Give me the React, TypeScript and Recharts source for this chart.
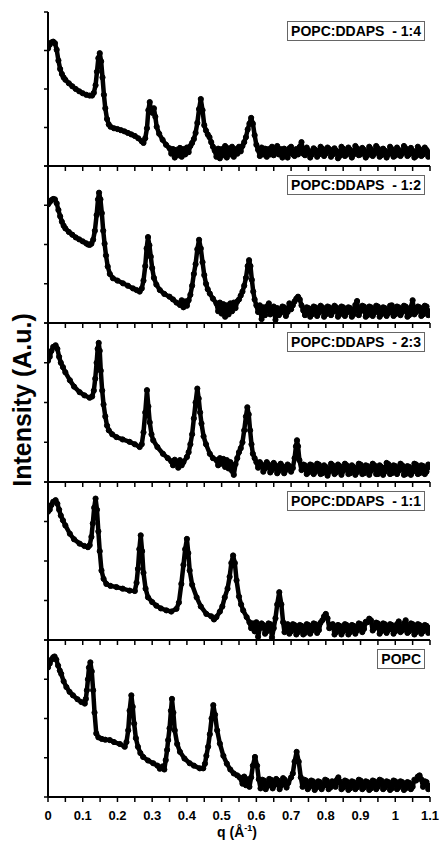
import React from 'react';
import { LineChart, Line, XAxis, YAxis } from 'recharts';

type Point = [number, number];

const qTicks = [0, 0.05, 0.1, 0.15, 0.2, 0.25, 0.3, 0.35, 0.4, 0.45, 0.5, 0.55, 0.6, 0.65, 0.7, 0.75, 0.8, 0.85, 0.9, 0.95, 1, 1.05, 1.1];
const intensityTicks = [0, 1, 2, 3, 4];

const ddaps14: Point[] = [
  [0, 3.05], [0.005, 3.15], [0.01, 3.21], [0.015, 3.23], [0.02, 3.19], [0.025, 3.02], [0.03, 2.74], [0.035, 2.52], [0.04, 2.39], [0.045, 2.3],
  [0.05, 2.24], [0.06, 2.15], [0.07, 2.07], [0.08, 2.0], [0.09, 1.94], [0.1, 1.89], [0.11, 1.85], [0.12, 1.83], [0.127, 1.83], [0.132, 1.9],
  [0.137, 2.1], [0.141, 2.45], [0.145, 2.8], [0.149, 2.93], [0.153, 2.72], [0.157, 2.3], [0.161, 1.85], [0.165, 1.5], [0.17, 1.22], [0.175, 1.08],
  [0.18, 1.02], [0.19, 0.98], [0.2, 0.96], [0.21, 0.93], [0.22, 0.9], [0.23, 0.86], [0.24, 0.82], [0.25, 0.78], [0.26, 0.72], [0.27, 0.64],
  [0.275, 0.6], [0.28, 0.72], [0.285, 0.98], [0.289, 1.45], [0.293, 1.66], [0.297, 1.42], [0.301, 1.38], [0.305, 1.5], [0.309, 1.28], [0.313, 1.02],
  [0.32, 0.84], [0.33, 0.68], [0.34, 0.55], [0.35, 0.46], [0.355, 0.32], [0.36, 0.44], [0.365, 0.22], [0.37, 0.42], [0.375, 0.28], [0.38, 0.47],
  [0.385, 0.24], [0.39, 0.44], [0.395, 0.3], [0.4, 0.48], [0.405, 0.36], [0.41, 0.52], [0.415, 0.6], [0.42, 0.7], [0.425, 0.86], [0.43, 1.12],
  [0.435, 1.48], [0.44, 1.74], [0.445, 1.45], [0.45, 1.06], [0.455, 0.92], [0.46, 0.82], [0.465, 0.75], [0.47, 0.62], [0.475, 0.5], [0.48, 0.4],
  [0.485, 0.24], [0.49, 0.45], [0.495, 0.2], [0.5, 0.44], [0.505, 0.28], [0.51, 0.52], [0.515, 0.22], [0.52, 0.46], [0.525, 0.3], [0.53, 0.5],
  [0.535, 0.24], [0.54, 0.44], [0.545, 0.32], [0.55, 0.5], [0.555, 0.38], [0.56, 0.52], [0.565, 0.62], [0.57, 0.75], [0.575, 0.95], [0.58, 1.1],
  [0.585, 1.25], [0.59, 1.1], [0.595, 0.8], [0.6, 0.55], [0.605, 0.42], [0.61, 0.26], [0.615, 0.48], [0.62, 0.3], [0.625, 0.45], [0.63, 0.24],
  [0.635, 0.44], [0.64, 0.3], [0.645, 0.5], [0.65, 0.28], [0.66, 0.52], [0.665, 0.3], [0.67, 0.44], [0.675, 0.22], [0.68, 0.45], [0.685, 0.3],
  [0.69, 0.22], [0.695, 0.46], [0.7, 0.5], [0.705, 0.3], [0.71, 0.26], [0.715, 0.44], [0.72, 0.3], [0.725, 0.5], [0.73, 0.62], [0.735, 0.32],
  [0.74, 0.28], [0.745, 0.48], [0.75, 0.4], [0.755, 0.22], [0.76, 0.3], [0.765, 0.46], [0.77, 0.42], [0.775, 0.24], [0.78, 0.3], [0.785, 0.5],
  [0.79, 0.45], [0.795, 0.26], [0.8, 0.32], [0.805, 0.48], [0.81, 0.44], [0.815, 0.24], [0.82, 0.3], [0.825, 0.46], [0.83, 0.4], [0.835, 0.2],
  [0.84, 0.26], [0.845, 0.5], [0.85, 0.45], [0.855, 0.26], [0.86, 0.3], [0.865, 0.48], [0.87, 0.42], [0.875, 0.22], [0.88, 0.3], [0.885, 0.52],
  [0.89, 0.46], [0.895, 0.28], [0.9, 0.3], [0.905, 0.47], [0.91, 0.42], [0.915, 0.22], [0.92, 0.28], [0.925, 0.5], [0.93, 0.44], [0.935, 0.26],
  [0.94, 0.32], [0.945, 0.52], [0.95, 0.46], [0.955, 0.24], [0.96, 0.28], [0.965, 0.45], [0.97, 0.4], [0.975, 0.22], [0.98, 0.3], [0.985, 0.5],
  [0.99, 0.44], [0.995, 0.24], [1.0, 0.27], [1.005, 0.48], [1.01, 0.42], [1.015, 0.26], [1.02, 0.32], [1.025, 0.52], [1.03, 0.46], [1.035, 0.26],
  [1.04, 0.3], [1.045, 0.47], [1.05, 0.4], [1.055, 0.22], [1.06, 0.26], [1.065, 0.5], [1.07, 0.44], [1.075, 0.26], [1.08, 0.3], [1.085, 0.48],
  [1.09, 0.42], [1.095, 0.24], [1.1, 0.35],
];

const ddaps12: Point[] = [
  [0, 3.02], [0.005, 3.08], [0.01, 3.13], [0.015, 3.16], [0.02, 3.15], [0.025, 3.05], [0.03, 2.88], [0.035, 2.72], [0.04, 2.58], [0.045, 2.48],
  [0.05, 2.41], [0.06, 2.32], [0.07, 2.25], [0.08, 2.18], [0.09, 2.13], [0.1, 2.08], [0.11, 2.03], [0.115, 2.0], [0.12, 1.99], [0.125, 2.02],
  [0.13, 2.12], [0.135, 2.35], [0.14, 2.75], [0.144, 3.15], [0.147, 3.32], [0.151, 3.15], [0.155, 2.8], [0.159, 2.35], [0.163, 2.02], [0.167, 1.72],
  [0.172, 1.44], [0.178, 1.25], [0.187, 1.14], [0.2, 1.08], [0.216, 1.01], [0.23, 0.95], [0.245, 0.88], [0.255, 0.84], [0.264, 0.8], [0.27, 0.88],
  [0.275, 1.08], [0.28, 1.45], [0.284, 1.9], [0.288, 2.19], [0.292, 1.98], [0.296, 1.69], [0.3, 1.4], [0.305, 1.15], [0.312, 0.98], [0.322, 0.84],
  [0.335, 0.74], [0.35, 0.67], [0.36, 0.6], [0.37, 0.52], [0.38, 0.46], [0.385, 0.58], [0.39, 0.4], [0.395, 0.55], [0.4, 0.44], [0.405, 0.58],
  [0.41, 0.72], [0.415, 0.95], [0.42, 1.25], [0.425, 1.5], [0.43, 1.88], [0.435, 2.12], [0.44, 1.9], [0.445, 1.55], [0.45, 1.22], [0.455, 1.0],
  [0.46, 0.86], [0.466, 0.75], [0.475, 0.62], [0.485, 0.5], [0.49, 0.3], [0.495, 0.52], [0.5, 0.24], [0.505, 0.48], [0.51, 0.16], [0.515, 0.45],
  [0.52, 0.22], [0.525, 0.5], [0.53, 0.3], [0.535, 0.52], [0.54, 0.38], [0.545, 0.55], [0.55, 0.6], [0.555, 0.7], [0.56, 0.8], [0.565, 0.95],
  [0.57, 1.15], [0.575, 1.45], [0.579, 1.6], [0.583, 1.45], [0.587, 1.1], [0.591, 0.8], [0.595, 0.6], [0.6, 0.45], [0.605, 0.28], [0.61, 0.45],
  [0.615, 0.1], [0.62, 0.4], [0.625, 0.2], [0.63, 0.42], [0.636, 0.5], [0.64, 0.22], [0.645, 0.38], [0.65, 0.42], [0.655, 0.08], [0.66, 0.38],
  [0.665, 0.2], [0.67, 0.26], [0.675, 0.42], [0.68, 0.4], [0.685, 0.18], [0.69, 0.28], [0.695, 0.5], [0.7, 0.35], [0.705, 0.45], [0.71, 0.55],
  [0.715, 0.62], [0.72, 0.67], [0.725, 0.6], [0.73, 0.45], [0.735, 0.32], [0.74, 0.2], [0.745, 0.4], [0.75, 0.38], [0.755, 0.16], [0.76, 0.22],
  [0.765, 0.42], [0.77, 0.4], [0.775, 0.18], [0.78, 0.26], [0.785, 0.44], [0.79, 0.4], [0.795, 0.16], [0.8, 0.22], [0.805, 0.42], [0.81, 0.4],
  [0.815, 0.2], [0.82, 0.28], [0.825, 0.44], [0.83, 0.4], [0.835, 0.16], [0.84, 0.22], [0.845, 0.42], [0.85, 0.4], [0.855, 0.18], [0.86, 0.26],
  [0.865, 0.4], [0.87, 0.38], [0.875, 0.16], [0.88, 0.22], [0.885, 0.46], [0.89, 0.56], [0.895, 0.2], [0.9, 0.3], [0.905, 0.44], [0.91, 0.42],
  [0.915, 0.16], [0.92, 0.2], [0.925, 0.42], [0.93, 0.4], [0.935, 0.18], [0.94, 0.26], [0.945, 0.44], [0.95, 0.42], [0.955, 0.16], [0.96, 0.22],
  [0.965, 0.4], [0.97, 0.38], [0.975, 0.18], [0.98, 0.25], [0.985, 0.44], [0.99, 0.45], [0.995, 0.18], [1.0, 0.22], [1.005, 0.42], [1.01, 0.4],
  [1.015, 0.2], [1.02, 0.28], [1.025, 0.44], [1.03, 0.42], [1.035, 0.16], [1.04, 0.2], [1.045, 0.4], [1.05, 0.58], [1.055, 0.22], [1.06, 0.28],
  [1.065, 0.42], [1.07, 0.4], [1.075, 0.18], [1.08, 0.22], [1.085, 0.44], [1.09, 0.42], [1.095, 0.2], [1.1, 0.3],
];

const ddaps23: Point[] = [
  [0, 3.05], [0.005, 3.15], [0.01, 3.3], [0.015, 3.4], [0.022, 3.44], [0.027, 3.35], [0.032, 3.15], [0.037, 3.0], [0.043, 2.89], [0.05, 2.76],
  [0.063, 2.56], [0.075, 2.4], [0.091, 2.26], [0.105, 2.18], [0.12, 2.12], [0.127, 2.15], [0.132, 2.3], [0.136, 2.6], [0.14, 3.0], [0.143, 3.35],
  [0.146, 3.5], [0.149, 3.3], [0.152, 2.8], [0.156, 2.3], [0.16, 1.95], [0.165, 1.65], [0.17, 1.42], [0.175, 1.3], [0.185, 1.2], [0.197, 1.13],
  [0.215, 1.07], [0.235, 1.01], [0.25, 0.95], [0.264, 0.88], [0.27, 0.95], [0.275, 1.25], [0.28, 1.75], [0.285, 2.31], [0.289, 1.9], [0.293, 1.5],
  [0.298, 1.2], [0.303, 1.05], [0.315, 0.88], [0.331, 0.71], [0.345, 0.6], [0.355, 0.52], [0.36, 0.42], [0.365, 0.56], [0.37, 0.5], [0.375, 0.36],
  [0.38, 0.55], [0.385, 0.42], [0.39, 0.5], [0.4, 0.63], [0.405, 0.75], [0.41, 0.95], [0.415, 1.2], [0.42, 1.6], [0.425, 2.0], [0.43, 2.35],
  [0.434, 2.1], [0.438, 1.75], [0.442, 1.47], [0.448, 1.15], [0.455, 0.95], [0.466, 0.71], [0.475, 0.6], [0.485, 0.55], [0.49, 0.42], [0.495, 0.6],
  [0.5, 0.46], [0.505, 0.58], [0.51, 0.38], [0.515, 0.55], [0.52, 0.34], [0.525, 0.5], [0.53, 0.28], [0.535, 0.18], [0.54, 0.45], [0.545, 0.6],
  [0.55, 0.75], [0.555, 0.85], [0.56, 1.0], [0.565, 1.3], [0.57, 1.65], [0.574, 1.88], [0.578, 1.7], [0.582, 1.3], [0.586, 0.95], [0.59, 0.71],
  [0.595, 0.6], [0.6, 0.5], [0.605, 0.36], [0.61, 0.5], [0.615, 0.44], [0.62, 0.26], [0.625, 0.34], [0.63, 0.5], [0.635, 0.44], [0.64, 0.24],
  [0.645, 0.3], [0.65, 0.48], [0.655, 0.42], [0.66, 0.22], [0.665, 0.28], [0.67, 0.46], [0.675, 0.4], [0.68, 0.22], [0.685, 0.3], [0.69, 0.44],
  [0.695, 0.4], [0.7, 0.26], [0.705, 0.35], [0.71, 0.6], [0.714, 0.9], [0.717, 1.05], [0.72, 0.9], [0.724, 0.55], [0.73, 0.3], [0.735, 0.44],
  [0.74, 0.42], [0.745, 0.2], [0.75, 0.24], [0.755, 0.44], [0.76, 0.42], [0.765, 0.2], [0.77, 0.26], [0.775, 0.46], [0.78, 0.44], [0.785, 0.2],
  [0.79, 0.22], [0.795, 0.42], [0.8, 0.38], [0.805, 0.16], [0.81, 0.26], [0.815, 0.46], [0.82, 0.42], [0.825, 0.2], [0.83, 0.24], [0.835, 0.44],
  [0.84, 0.4], [0.845, 0.18], [0.85, 0.28], [0.855, 0.46], [0.86, 0.42], [0.865, 0.2], [0.87, 0.22], [0.875, 0.42], [0.88, 0.38], [0.885, 0.18],
  [0.89, 0.25], [0.895, 0.46], [0.9, 0.44], [0.905, 0.2], [0.91, 0.22], [0.915, 0.42], [0.92, 0.4], [0.925, 0.18], [0.93, 0.28], [0.935, 0.46],
  [0.94, 0.42], [0.945, 0.2], [0.95, 0.2], [0.955, 0.42], [0.96, 0.38], [0.965, 0.18], [0.97, 0.26], [0.975, 0.48], [0.98, 0.45], [0.985, 0.2],
  [0.99, 0.22], [0.995, 0.42], [1.0, 0.4], [1.005, 0.2], [1.01, 0.28], [1.015, 0.46], [1.02, 0.42], [1.025, 0.18], [1.03, 0.2], [1.035, 0.4],
  [1.04, 0.38], [1.045, 0.18], [1.05, 0.26], [1.055, 0.46], [1.06, 0.44], [1.065, 0.2], [1.07, 0.22], [1.075, 0.42], [1.08, 0.4], [1.085, 0.2],
  [1.09, 0.26], [1.095, 0.44], [1.1, 0.38],
];

const ddaps11: Point[] = [
  [0, 3.25], [0.005, 3.3], [0.01, 3.42], [0.015, 3.5], [0.022, 3.54], [0.027, 3.45], [0.032, 3.3], [0.037, 3.15], [0.043, 3.03], [0.05, 2.9],
  [0.063, 2.69], [0.075, 2.55], [0.091, 2.44], [0.105, 2.38], [0.115, 2.35], [0.12, 2.4], [0.125, 2.61], [0.129, 2.95], [0.133, 3.35], [0.137, 3.58],
  [0.141, 3.3], [0.145, 2.75], [0.149, 2.25], [0.154, 1.76], [0.16, 1.55], [0.168, 1.42], [0.18, 1.37], [0.197, 1.34], [0.215, 1.3], [0.235, 1.25],
  [0.25, 1.24], [0.255, 1.45], [0.259, 1.8], [0.263, 2.3], [0.267, 2.65], [0.271, 2.25], [0.275, 1.7], [0.281, 1.3], [0.288, 1.08], [0.3, 0.96],
  [0.312, 0.87], [0.325, 0.8], [0.341, 0.75], [0.355, 0.72], [0.37, 0.79], [0.377, 0.95], [0.384, 1.42], [0.39, 1.9], [0.395, 2.3], [0.4, 2.56],
  [0.404, 2.2], [0.408, 1.76], [0.415, 1.4], [0.428, 1.08], [0.44, 0.85], [0.456, 0.66], [0.47, 0.6], [0.478, 0.52], [0.485, 0.58], [0.495, 0.72],
  [0.502, 0.85], [0.509, 1.08], [0.517, 1.3], [0.523, 1.6], [0.528, 1.95], [0.533, 2.14], [0.538, 1.95], [0.543, 1.51], [0.55, 1.1], [0.556, 0.9],
  [0.562, 0.75], [0.572, 0.58], [0.58, 0.45], [0.585, 0.3], [0.59, 0.42], [0.595, 0.22], [0.6, 0.45], [0.605, 0.08], [0.61, 0.3], [0.615, 0.42],
  [0.62, 0.38], [0.625, 0.16], [0.63, 0.22], [0.635, 0.42], [0.64, 0.4], [0.645, 0.06], [0.65, 0.3], [0.655, 0.55], [0.66, 0.9], [0.666, 1.21],
  [0.672, 0.9], [0.677, 0.45], [0.681, 0.2], [0.685, 0.38], [0.69, 0.4], [0.695, 0.16], [0.7, 0.22], [0.705, 0.4], [0.71, 0.38], [0.715, 0.14],
  [0.72, 0.2], [0.725, 0.38], [0.73, 0.36], [0.735, 0.14], [0.74, 0.18], [0.745, 0.4], [0.75, 0.38], [0.755, 0.16], [0.76, 0.24], [0.765, 0.42],
  [0.77, 0.4], [0.775, 0.18], [0.78, 0.25], [0.785, 0.44], [0.79, 0.5], [0.795, 0.6], [0.8, 0.66], [0.805, 0.55], [0.81, 0.3], [0.815, 0.38],
  [0.82, 0.4], [0.825, 0.14], [0.83, 0.2], [0.835, 0.38], [0.84, 0.36], [0.845, 0.14], [0.85, 0.22], [0.855, 0.4], [0.86, 0.38], [0.865, 0.14],
  [0.87, 0.2], [0.875, 0.38], [0.88, 0.36], [0.885, 0.16], [0.89, 0.24], [0.895, 0.42], [0.9, 0.4], [0.905, 0.2], [0.91, 0.28], [0.915, 0.46],
  [0.92, 0.45], [0.925, 0.54], [0.93, 0.5], [0.935, 0.24], [0.94, 0.3], [0.945, 0.44], [0.95, 0.42], [0.955, 0.16], [0.96, 0.22], [0.965, 0.42],
  [0.97, 0.4], [0.975, 0.18], [0.98, 0.25], [0.985, 0.4], [0.99, 0.38], [0.995, 0.16], [1.0, 0.22], [1.005, 0.4], [1.01, 0.47], [1.015, 0.2],
  [1.02, 0.24], [1.025, 0.42], [1.03, 0.5], [1.035, 0.18], [1.04, 0.22], [1.045, 0.42], [1.05, 0.4], [1.055, 0.14], [1.06, 0.2], [1.065, 0.4],
  [1.07, 0.38], [1.075, 0.16], [1.08, 0.22], [1.085, 0.38], [1.09, 0.36], [1.095, 0.18], [1.1, 0.3],
];

const popc: Point[] = [
  [0, 3.3], [0.005, 3.4], [0.01, 3.5], [0.015, 3.56], [0.019, 3.58], [0.024, 3.5], [0.029, 3.35], [0.034, 3.22], [0.038, 3.14], [0.045, 2.95],
  [0.053, 2.8], [0.062, 2.68], [0.072, 2.59], [0.085, 2.49], [0.096, 2.42], [0.106, 2.38], [0.109, 2.5], [0.112, 2.72], [0.115, 3.0], [0.118, 3.3],
  [0.122, 3.43], [0.126, 3.2], [0.13, 2.72], [0.134, 2.15], [0.139, 1.62], [0.145, 1.52], [0.155, 1.48], [0.165, 1.46], [0.178, 1.45], [0.19, 1.4],
  [0.207, 1.35], [0.221, 1.28], [0.226, 1.4], [0.231, 1.7], [0.235, 2.2], [0.24, 2.59], [0.244, 2.3], [0.248, 1.87], [0.253, 1.5], [0.259, 1.28],
  [0.266, 1.12], [0.274, 1.02], [0.288, 0.93], [0.303, 0.86], [0.315, 0.8], [0.322, 0.72], [0.33, 0.78], [0.335, 0.7], [0.339, 0.94], [0.343, 1.2],
  [0.346, 1.45], [0.35, 1.75], [0.354, 2.2], [0.357, 2.5], [0.361, 2.15], [0.365, 1.7], [0.372, 1.35], [0.38, 1.15], [0.393, 0.98], [0.408, 0.86],
  [0.42, 0.8], [0.437, 0.73], [0.447, 0.73], [0.452, 0.85], [0.456, 1.05], [0.461, 1.28], [0.466, 1.6], [0.471, 2.0], [0.476, 2.34], [0.481, 2.1],
  [0.487, 1.7], [0.495, 1.36], [0.505, 1.05], [0.515, 0.85], [0.525, 0.7], [0.535, 0.6], [0.545, 0.55], [0.552, 0.5], [0.56, 0.34], [0.565, 0.52],
  [0.57, 0.3], [0.575, 0.45], [0.58, 0.26], [0.585, 0.5], [0.59, 0.8], [0.596, 1.02], [0.602, 0.8], [0.607, 0.45], [0.612, 0.22], [0.617, 0.44],
  [0.622, 0.42], [0.627, 0.2], [0.632, 0.28], [0.637, 0.46], [0.642, 0.44], [0.647, 0.22], [0.652, 0.3], [0.657, 0.46], [0.662, 0.42], [0.667, 0.2],
  [0.672, 0.3], [0.677, 0.48], [0.682, 0.44], [0.687, 0.24], [0.692, 0.36], [0.7, 0.5], [0.705, 0.6], [0.71, 0.9], [0.716, 1.15], [0.722, 0.9],
  [0.728, 0.5], [0.733, 0.26], [0.738, 0.44], [0.743, 0.42], [0.748, 0.2], [0.753, 0.26], [0.758, 0.42], [0.763, 0.4], [0.768, 0.18], [0.773, 0.24],
  [0.778, 0.4], [0.783, 0.38], [0.788, 0.2], [0.793, 0.28], [0.798, 0.44], [0.803, 0.42], [0.808, 0.2], [0.813, 0.24], [0.818, 0.4], [0.823, 0.38],
  [0.828, 0.26], [0.832, 0.44], [0.836, 0.5], [0.84, 0.4], [0.845, 0.2], [0.85, 0.24], [0.855, 0.42], [0.86, 0.4], [0.865, 0.18], [0.87, 0.22],
  [0.875, 0.4], [0.88, 0.38], [0.885, 0.2], [0.89, 0.25], [0.895, 0.44], [0.9, 0.42], [0.905, 0.2], [0.91, 0.24], [0.915, 0.4], [0.92, 0.38],
  [0.925, 0.18], [0.93, 0.22], [0.935, 0.42], [0.94, 0.4], [0.945, 0.2], [0.95, 0.26], [0.955, 0.44], [0.96, 0.42], [0.965, 0.2], [0.97, 0.24],
  [0.975, 0.4], [0.98, 0.38], [0.985, 0.18], [0.99, 0.22], [0.995, 0.42], [1.0, 0.4], [1.005, 0.2], [1.01, 0.25], [1.015, 0.4], [1.02, 0.38],
  [1.025, 0.18], [1.03, 0.22], [1.035, 0.38], [1.04, 0.36], [1.045, 0.2], [1.05, 0.26], [1.055, 0.44], [1.06, 0.42], [1.065, 0.52], [1.07, 0.55],
  [1.075, 0.45], [1.08, 0.26], [1.085, 0.4], [1.09, 0.38], [1.095, 0.2], [1.1, 0.28],
];

const sampleLabels = ['POPC:DDAPS  - 1:4', 'POPC:DDAPS  - 1:2', 'POPC:DDAPS  - 2:3', 'POPC:DDAPS  - 1:1', 'POPC'];
const sampleCurves = [ddaps14, ddaps12, ddaps23, ddaps11, popc];

// panel edges in page pixels, top to bottom
const edges = [12, 166, 323, 482, 640, 797];
const font = '"Liberation Sans", Arial, sans-serif';

interface PanelProps {
  curve: Point[];
  label: string;
  top: number;
  plotHeight: number;
  last: boolean;
}

function Panel({ curve, label, top, plotHeight, last }: PanelProps) {
  const data = curve.map(([q, i]) => ({ q, i }));
  const axisHeight = last ? 40 : 6;
  return (
    <>
      <div style={{ position: 'absolute', left: 0, top: top - 2 }}>
        <LineChart width={439} height={plotHeight + 2 + axisHeight} data={data} margin={{ top: 2, right: 9, bottom: 0, left: 0 }}>
          <XAxis
            dataKey="q"
            type="number"
            domain={[0, 1.1]}
            ticks={qTicks}
            interval={0}
            allowDataOverflow
            height={axisHeight}
            axisLine={{ stroke: '#000', strokeWidth: 2 }}
            tickLine={{ stroke: '#000', strokeWidth: 1.5 }}
            tickSize={5}
            tickMargin={9}
            tick={{ fill: '#000', fontSize: 13, fontWeight: 'bold', fontFamily: font }}
            tickFormatter={(v: number, idx: number) => (last && idx % 2 === 0 ? String(v) : '')}
          />
          <YAxis
            type="number"
            domain={[0, 4]}
            ticks={intensityTicks}
            allowDataOverflow
            width={48}
            axisLine={{ stroke: '#000', strokeWidth: 2 }}
            tickLine={{ stroke: '#000', strokeWidth: 1.5 }}
            tickSize={4}
            tickFormatter={() => ''}
          />
          <Line
            dataKey="i"
            type="linear"
            stroke="#000"
            strokeWidth={4.5}
            strokeLinejoin="round"
            dot={{ r: 2.6, fill: '#000', stroke: '#000', strokeWidth: 1 }}
            isAnimationActive={false}
          />
        </LineChart>
      </div>
      <div
        style={{
          position: 'absolute',
          right: 439 - 425,
          top: top + 9,
          padding: '0 3px',
          border: '1px solid #666',
          background: '#fff',
          fontFamily: font,
          fontWeight: 'bold',
          fontSize: 14,
          lineHeight: '18px',
          whiteSpace: 'pre',
          color: '#000',
        }}
      >
        {label}
      </div>
    </>
  );
}

export default function App() {
  return (
    <div style={{ position: 'absolute', left: 0, top: 0, width: 439, height: 843, background: '#fff' }}>
      {sampleCurves.map((curve, k) => (
        <Panel
          key={sampleLabels[k]}
          curve={curve}
          label={sampleLabels[k]}
          top={edges[k]}
          plotHeight={edges[k + 1] - edges[k]}
          last={k === sampleCurves.length - 1}
        />
      ))}
      <svg width={439} height={843} style={{ position: 'absolute', left: 0, top: 0, pointerEvents: 'none' }}>
        <text
          transform="translate(31,400) rotate(-90)"
          textAnchor="middle"
          fontFamily={font}
          fontWeight="bold"
          fontSize={25}
        >
          Intensity (A.u.)
        </text>
        <text x={237} y={837} textAnchor="middle" fontFamily={font} fontWeight="bold" fontSize={14}>
          q (Å
          <tspan fontSize={9} dy={-6}>-1</tspan>
          <tspan dy={6}>)</tspan>
        </text>
      </svg>
    </div>
  );
}
